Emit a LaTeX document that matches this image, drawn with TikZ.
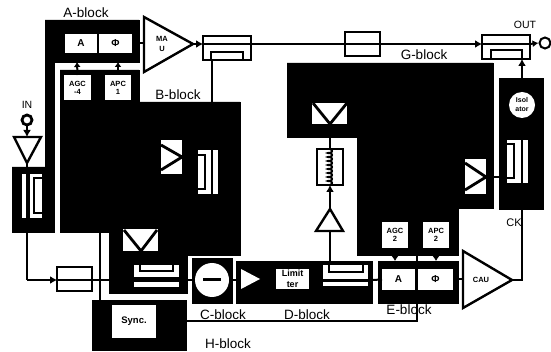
\documentclass[tikz,border=0pt]{standalone}
\usepackage{fontspec}
\setmainfont{Liberation Sans}
\usetikzlibrary{arrows.meta,decorations.pathmorphing}
\tikzset{
  blk/.style={fill=black,draw=black,line width=.5pt},
  wbox/.style={fill=white,draw=none,inner sep=0pt,outer sep=0pt,align=center,font=\bfseries\fontsize{7.5}{8.5}\selectfont},
  obox/.style={fill=white,draw=black,line width=2.2pt,inner sep=0pt,outer sep=0pt},
  lab/.style={inner sep=0pt,font=\fontsize{13.5}{15}\selectfont},
  smalllab/.style={inner sep=0pt,font=\fontsize{10.5}{12}\selectfont},
  wire/.style={line width=2pt,draw=black},
  arr/.style={wire,-{Latex[length=7pt,width=8pt]}},
  sarr/.style={wire,-{Latex[length=5pt,width=7pt]}},
  sym/.style={line width=2.8pt,draw=black,line join=miter},
  thinline/.style={line width=2pt,draw=black},
  tri/.style={fill=white,draw=black,line width=2.4pt,line join=miter},
  triname/.style={inner sep=0pt,align=center,font=\bfseries\fontsize{7.5}{10}\selectfont},
  bigbox/.style={wbox,font=\bfseries\fontsize{10}{11}\selectfont}
}
\begin{document}
\begin{tikzpicture}[x=1pt,y=-1pt]
\useasboundingbox (0,0) rectangle (551,352);
% black silhouettes
\fill[blk] (45,20)--(139,20)--(139,62)--(54,62)--(54,232)--(12,232)--(12,167)--(45,167)--cycle;
\fill[blk] (60,70)--(139,70)--(139,102)--(240,102)--(240,255)--(187,255)--(187,293)--(109,293)--(109,232)--(60,232)--cycle;
\fill[blk] (287,63)--(493,63)--(493,208)--(458,208)--(458,255)--(357,255)--(357,137)--(287,137)--cycle;
\fill[blk] (499,78)--(543,78)--(543,209)--(499,209)--cycle;
\fill[blk] (192,258) rectangle (232,303);
\fill[blk] (236,261) rectangle (372,303);
\fill[blk] (378,261) rectangle (458,303);
\fill[blk] (92,300) rectangle (186,350);
% white boxes with text
\node[bigbox,minimum width=32pt,minimum height=19pt] (A1) at (81,43.5) {A};
\node[bigbox,minimum width=33pt,minimum height=19pt] (P1) at (115.5,43.5) {Φ};
\node[wbox,minimum width=27pt,minimum height=25pt] (AGC4) at (77.5,87.5) {AGC\\[-.5pt]-4};
\node[wbox,minimum width=26pt,minimum height=25pt] (APC1) at (118,87.5) {APC\\[-.5pt]1};
\node[wbox,minimum width=26pt,minimum height=26pt] (AGC2) at (395,235) {AGC\\[-.5pt]2};
\node[wbox,minimum width=26pt,minimum height=26pt] (APC2) at (436,235) {APC\\[-.5pt]2};
\node[bigbox,minimum width=33pt,minimum height=21pt] (A2) at (398.5,279.5) {A};
\node[bigbox,minimum width=35pt,minimum height=21pt] (P2) at (435.5,279.5) {Φ};
\node[wbox,minimum width=44pt,minimum height=33pt,font=\bfseries\fontsize{9.5}{11}\selectfont] (Sync) at (134,321.5) {Sync.};
\node[wbox,minimum width=33pt,minimum height=20pt,font=\bfseries\fontsize{9}{11.5}\selectfont] (Lim) at (292.5,279) {Limit\\ter};
\node[wbox,circle,minimum size=26pt,font=\bfseries\fontsize{7}{9}\selectfont] (Iso) at (522,105) {Isol\\ator};
\node[wbox,circle,minimum size=34pt] (Sub) at (212,280) {};
\draw[line width=3pt] (203,280)--(221,280);
% symbol: B-block triangle and coupler
\node[wbox,minimum width=21pt,minimum height=34pt] (S1) at (171.5,157) {};
\draw[sym] (161,145)--(182,157)--(161,170);
\node[wbox,minimum width=13pt,minimum height=44pt] (S2) at (204.5,172) {};
\node[wbox,minimum width=5pt,minimum height=44pt] (S3) at (215.5,172) {};
\draw[thinline] (198,155)--(205,155)--(205,189)--(198,189);
% symbol: left coupler
\node[wbox,minimum width=4pt,minimum height=44pt] (L1) at (24,196) {};
\node[wbox,minimum width=12pt,minimum height=44pt] (L2) at (36,196) {};
\draw[thinline] (42,178)--(34,178)--(34,213)--(42,213);
% symbol: bottom B-block
\node[wbox,minimum width=35pt,minimum height=22pt] (S4) at (140.5,240) {};
\draw[sym] (124,230)--(141,251)--(157,230);
\node[wbox,minimum width=45pt,minimum height=12pt] (S5) at (156.5,271) {};
\node[wbox,minimum width=45pt,minimum height=5pt] (S6) at (156.5,284.5) {};
\draw[thinline] (140,265)--(140,271)--(173,271)--(173,265);
% symbol: G-block
\node[wbox,minimum width=35pt,minimum height=21pt] (G1) at (329.5,113.5) {};
\draw[sym] (313,103)--(330,124)--(347,103);
\node[wbox,minimum width=21pt,minimum height=35pt] (G2) at (475.5,176.5) {};
\draw[sym] (465,163)--(486,177)--(465,190);
\node[wbox,minimum width=14pt,minimum height=43pt] (G3) at (514,161.5) {};
\node[wbox,minimum width=5pt,minimum height=43pt] (G4) at (525.5,161.5) {};
\draw[thinline] (507,144)--(514,144)--(514,178)--(507,178);
\draw[sym] (486,177)--(507,177);
% D-block coupler
\node[wbox,minimum width=45pt,minimum height=14pt] (D1) at (345.5,272) {};
\node[wbox,minimum width=45pt,minimum height=4pt] (D2) at (345.5,284) {};
\draw[thinline] (329,265)--(329,272)--(363,272)--(363,265);
% D-block triangle
\fill[white] (241,269)--(260,279)--(241,289)--cycle;
% outlined coupler and attenuator boxes
\node[obox,minimum width=48pt,minimum height=24pt] (C1) at (227,48) {};
\node[obox,minimum width=48pt,minimum height=24pt] (C2) at (506,47) {};
\node[obox,minimum width=35pt,minimum height=24pt] (At1) at (362.5,44) {};
\node[obox,minimum width=35pt,minimum height=24pt] (At2) at (74.5,279) {};
\node[obox,minimum width=26pt,minimum height=36pt] (Ind) at (330,167) {};
\draw[thinline] (211,60)--(211,52)--(243,52)--(243,60);
\draw[thinline] (491,59)--(491,50)--(522,50)--(522,59);
% triangles
\draw[tri] (144,17) coordinate (MAa)--(144,72) coordinate (MAb)--(193,44) coordinate (MAc)--cycle;
\node[triname] (MAU) at (162,44) {MA\\U};
\draw[tri] (463,251) coordinate (CAa)--(463,308) coordinate (CAb)--(512,280) coordinate (CAc)--cycle;
\node[triname] (CAU) at (481,280) {CAU};
\draw[tri] (14,137) coordinate (Ia)--(41,137) coordinate (Ib)--(27,163) coordinate (Ic)--cycle;
\draw[tri] (330,209) coordinate (Da)--(316,231) coordinate (Db)--(343,231) coordinate (Dc)--cycle;
% terminals
\node[circle,draw=black,line width=2.8pt,fill=white,minimum size=10pt,inner sep=0pt] (In) at (27,120) {};
\node[circle,draw=black,line width=2pt,fill=white,minimum size=11pt,inner sep=0pt] (Out) at (545,43) {};
% connectors
\coordinate (IaT) at (27,137);
\coordinate (Lbot) at (27,232);
\coordinate (bend1) at (27,280);
\coordinate (Ltop) at (27,167);
\coordinate (Bin) at (110,280);
\draw[arr] (In.south)--(IaT);
\draw[wire] (Ic)--(Ltop);
\draw[wire] (Lbot)--(bend1);
\draw[arr] (bend1)--(bend1-|At2.west);
\draw[thinline] (bend1-|At2.west)--(Bin);
\coordinate (Cout) at (187,280);
\coordinate (Dleft) at (237,280);
\draw[wire] (Cout)--(Sub.west);
\draw[wire] (Sub.east)--(Dleft);
\draw[wire] (P1.east)--(MAa|-P1.east);
\coordinate (C1in) at (203,44);
\coordinate (C2in) at (482,44);
\coordinate (C2out) at (530,44);
\draw[arr] (MAc)--(C1in);
\draw[wire] (C1in)--(At1.west);
\draw[wire] (At1.west)--(At1.east);
\draw[arr] (At1.east)--(C2in);
\draw[wire] (C2in)--(C2out);
\draw[-{Latex[length=6pt,width=7pt]},line width=2pt] (C2out)--(Out.west);
\coordinate (C1d) at (212,60);
\coordinate (C1b) at (212,102);
\draw[wire] (C1d)--(C1b);
\coordinate (IsoT) at (522,78);
\coordinate (C2b) at (522,59);
\coordinate (IsoB) at (522,209);
\coordinate (CAr) at (522,280);
\draw[arr] (IsoT)--(C2b);
\draw[wire] (CAc)--(CAr)--(IsoB);
\draw[wire] (P2.east)--(CAa|-P2.east);
\coordinate (Dout) at (372,280);
\draw[wire] (Dout)--(A2.west);
\coordinate (Gb) at (330,137);
\coordinate (Cu) at (330,265);
\draw[wire] (Ind.north)--(Gb);
\draw[wire,decorate,decoration={coil,segment length=4pt,amplitude=2pt,aspect=.5}] (Ind.north)--(Ind.south);
\draw[arr] (Da)--(Ind.south);
\draw[wire] (Da|-Db)--(Cu);
\coordinate (Bb) at (100,232);
\coordinate (Hb) at (100,300);
\draw[wire] (Bb)--(Hb);
\coordinate (Hr) at (186,321);
\coordinate (Ec) at (417,321);
\coordinate (Gl) at (417,255);
\draw[wire] (Hr)--(Ec)--(Gl);
\draw[sarr] (AGC2.south)--(395,261);
\draw[sarr] (APC2.south)--(436,261);
\draw[sarr] (AGC4.north)--(77,62);
\draw[sarr] (APC1.north)--(118,62);
% labels
\node[lab] (Lb1) at (86,13) {A-block};
\node[lab] (Lb2) at (178,95) {B-block};
\node[lab] (Lb3) at (424,55) {G-block};
\node[lab] (Lb4) at (223,315) {C-block};
\node[lab] (Lb5) at (307,315) {D-block};
\node[lab] (Lb6) at (409,310) {E-block};
\node[lab] (Lb7) at (228,344) {H-block};
\node[smalllab] (Lb8) at (27,105) {IN};
\node[smalllab] (Lb9) at (525,25) {OUT};
\node[smalllab,font=\fontsize{11}{12}\selectfont] (Lb10) at (514,223) {CK};
\end{tikzpicture}
\end{document}
